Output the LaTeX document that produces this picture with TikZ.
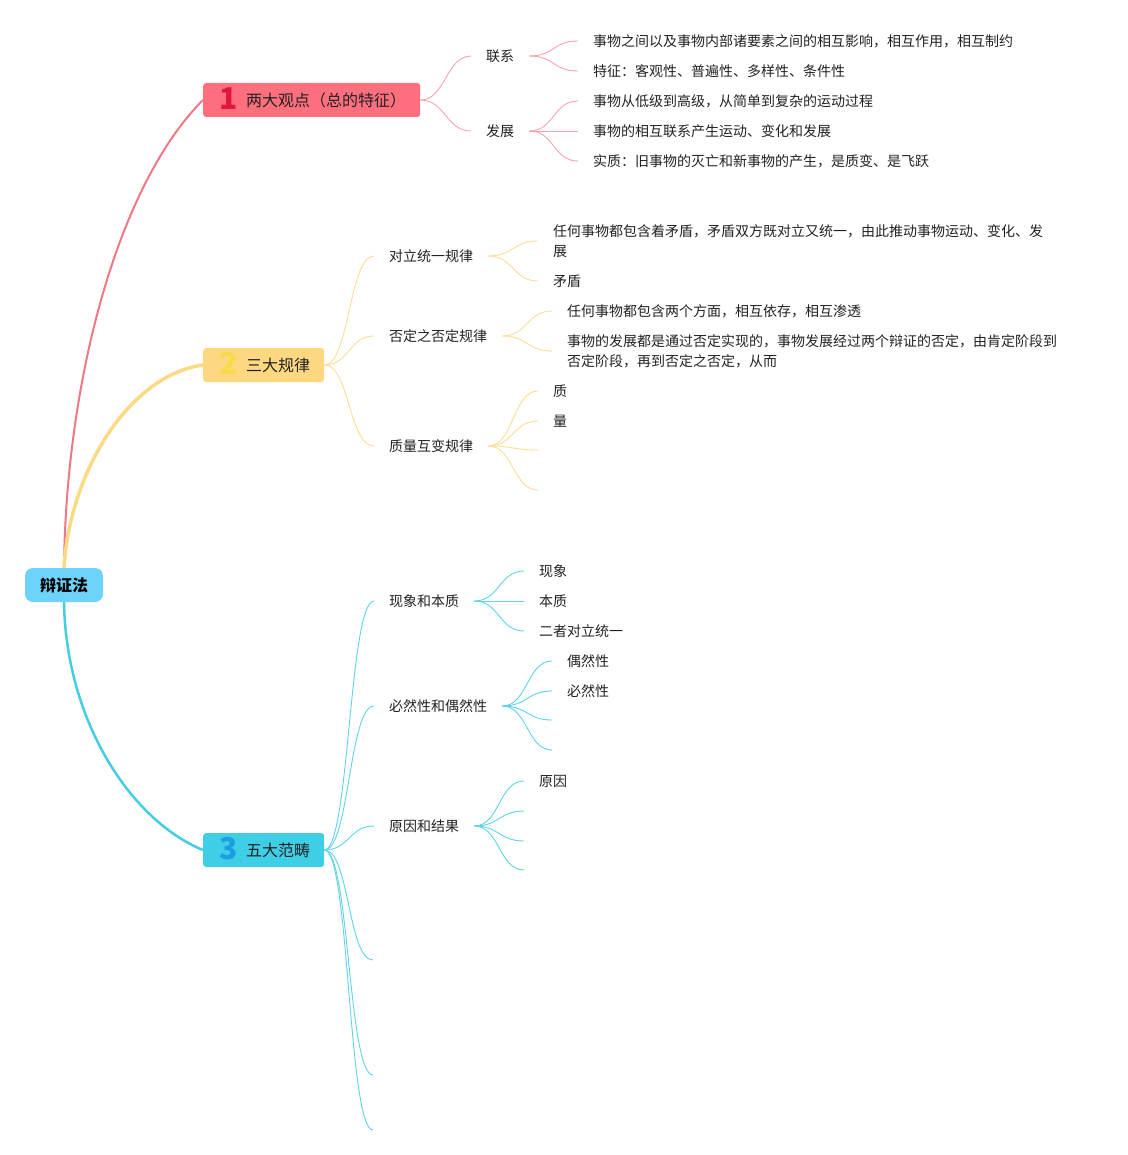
\documentclass[tikz,border=0pt]{standalone}
\usepackage{fontspec}
\setmainfont{Noto Sans CJK SC}
\definecolor{redfill}{HTML}{FF6F7D}
\definecolor{rednum}{HTML}{E3163A}
\definecolor{redline}{HTML}{F07886}
\definecolor{redthin}{HTML}{F5A3AD}
\definecolor{yelfill}{HTML}{FDD881}
\definecolor{yelnum}{HTML}{F7DC47}
\definecolor{yelline}{HTML}{FBDA86}
\definecolor{yelthin}{HTML}{FADC94}
\definecolor{cyanfill}{HTML}{3ECFE6}
\definecolor{cyannum}{HTML}{1E9DE2}
\definecolor{cyanline}{HTML}{45CDE4}
\definecolor{cyanthin}{HTML}{5ED3E7}
\definecolor{rootfill}{HTML}{6DD3FB}
\definecolor{ink}{HTML}{222222}
\begin{document}
\begin{tikzpicture}[x=1pt,y=-1pt,
  root/.style={rounded corners=8pt,fill=rootfill,minimum height=34pt,inner xsep=15pt,
    font=\fontsize{16}{16}\selectfont\bfseries},
  topic/.style={anchor=west,rounded corners=3pt,minimum height=34pt,inner xsep=14pt,inner ysep=0pt,
    font=\fontsize{16}{16}\selectfont,text=ink},
  sub/.style={anchor=west,inner xsep=15pt,inner ysep=2pt,font=\fontsize{14}{20}\selectfont,text=ink},
  leaf/.style={sub,align=left},
  main/.style={line width=#1},
  thin/.style={line width=.9pt}]
\useasboundingbox (0,0) rectangle (1127,1155);
\newcommand\topicnum[2]{\makebox[22pt][c]{\raisebox{-3pt}[0pt][0pt]{\color{#1}\fontsize{30}{30}\selectfont\bfseries #2}}\hspace{7pt}}
% root and the three topics
\node[root] (root) at (64,585) {辩证法};
\node[topic,fill=redfill] (t1) at (203,100) {\topicnum{rednum}{1}两大观点（总的特征）};
\node[topic,fill=yelfill] (t2) at (203,365) {\topicnum{yelnum}{2}三大规律};
\node[topic,fill=cyanfill] (t3) at (203,850) {\topicnum{cyannum}{3}五大范畴};
\draw[main=2pt,redline] (root.north) .. controls (66,380) and (118,185) .. (t1.west);
\draw[main=3.5pt,yelline] (root.north) .. controls (70,470) and (130,375) .. (t2.west);
\draw[main=2.5pt,cyanline] (root.south) .. controls (66,720) and (130,820) .. (t3.west);

% topic 1
\node[sub] (lx) at (471,56) {联系};
\node[sub] (fz) at (471,131) {发展};
\foreach \s in {lx,fz}
  \draw[thin,redthin] (t1.east) .. controls +(25,0) and +(-25,0) .. (\s.west);
\foreach \n/\y/\txt in {1/41/{事物之间以及事物内部诸要素之间的相互影响，相互作用，相互制约},
    2/71/{特征：客观性、普遍性、多样性、条件性}}{
  \node[leaf] (lx\n) at (578,\y) {\txt};
  \draw[thin,redthin] (lx.east) .. controls +(25,0) and +(-25,0) .. (lx\n.west);
}
\foreach \n/\y/\txt in {1/101/{事物从低级到高级，从简单到复杂的运动过程},
    2/131/{事物的相互联系产生运动、变化和发展},
    3/161/{实质：旧事物的灭亡和新事物的产生，是质变、是飞跃}}{
  \node[leaf] (fz\n) at (578,\y) {\txt};
  \draw[thin,redthin] (fz.east) .. controls +(25,0) and +(-25,0) .. (fz\n.west);
}

% topic 2
\node[sub] (dl) at (374,256) {对立统一规律};
\node[sub] (fd) at (374,336) {否定之否定规律};
\node[sub] (zl) at (374,446) {质量互变规律};
\foreach \s in {dl,fd,zl}
  \draw[thin,yelthin] (t2.east) .. controls +(25,0) and +(-25,0) .. (\s.west);
\node[leaf] (dl1) at (538,241) {任何事物都包含着矛盾，矛盾双方既对立又统一，由此推动事物运动、变化、发\\展};
\node[leaf] (dl2) at (538,281) {矛盾};
\node[leaf] (fd1) at (552,311) {任何事物都包含两个方面，相互依存，相互渗透};
\node[leaf] (fd2) at (552,351) {事物的发展都是通过否定实现的，事物发展经过两个辩证的否定，由肯定阶段到\\否定阶段，再到否定之否定，从而};
\node[leaf] (zl1) at (538,391) {质};
\node[leaf] (zl2) at (538,421) {量};
\coordinate (zl3) at (538,450);
\coordinate (zl4) at (538,490);
\foreach \s/\l in {dl/dl1,dl/dl2,fd/fd1,fd/fd2}
  \draw[thin,yelthin] (\s.east) .. controls +(25,0) and +(-25,0) .. (\l.west);
\foreach \l in {zl1.west,zl2.west,zl3,zl4}
  \draw[thin,yelthin] (zl.east) .. controls +(25,0) and +(-25,0) .. (\l);

% topic 3
\node[sub] (xb) at (374,601) {现象和本质};
\node[sub] (by) at (374,706) {必然性和偶然性};
\node[sub] (yg) at (374,826) {原因和结果};
\coordinate (fc4) at (373,960);
\coordinate (fc5) at (373,1075);
\coordinate (fc6) at (373,1130);
\foreach \l in {xb.west,by.west,yg.west,fc4,fc5,fc6}
  \draw[thin,cyanthin] (t3.east) .. controls +(25,0) and +(-25,0) .. (\l);
\node[leaf] (xb1) at (524,571) {现象};
\node[leaf] (xb2) at (524,601) {本质};
\node[leaf] (xb3) at (524,631) {二者对立统一};
\node[leaf] (by1) at (552,661) {偶然性};
\node[leaf] (by2) at (552,691) {必然性};
\coordinate (by3) at (552,720);
\coordinate (by4) at (552,750);
\node[leaf] (yg1) at (524,781) {原因};
\coordinate (yg2) at (524,811);
\coordinate (yg3) at (524,841);
\coordinate (yg4) at (524,870);
\foreach \l in {xb1.west,xb2.west,xb3.west}
  \draw[thin,cyanthin] (xb.east) .. controls +(25,0) and +(-25,0) .. (\l);
\foreach \l in {by1.west,by2.west,by3,by4}
  \draw[thin,cyanthin] (by.east) .. controls +(25,0) and +(-25,0) .. (\l);
\foreach \l in {yg1.west,yg2,yg3,yg4}
  \draw[thin,cyanthin] (yg.east) .. controls +(25,0) and +(-25,0) .. (\l);
\end{tikzpicture}
\end{document}
